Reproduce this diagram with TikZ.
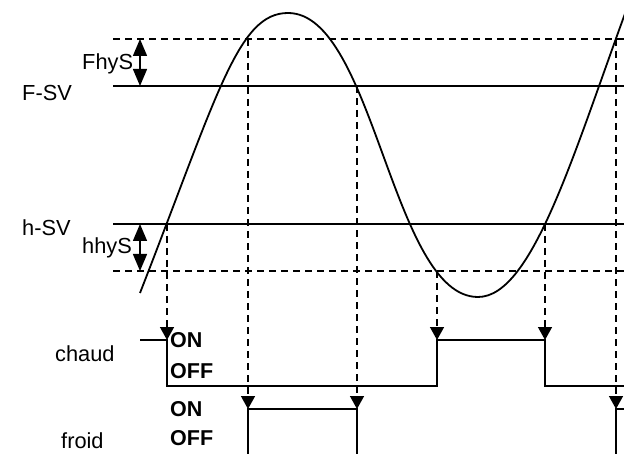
\documentclass[tikz,border=0pt]{standalone}
\usepackage{fontspec}
\setmainfont{Liberation Sans}
\usetikzlibrary{arrows.meta}
\tikzset{
  lvl/.style={line width=1.5bp},
  dsh/.style={line width=1.5bp, dash pattern=on 7bp off 5bp},
  sig/.style={line width=1.6bp},
  curve/.style={line width=1.8bp},
  drop/.style={dsh, -{Triangle[width=14bp,length=13bp]}},
  hys/.style={line width=1.5bp, {Triangle[width=14bp,length=17bp]}-{Triangle[width=14bp,length=17bp]}},
  lbl/.style={font=\fontsize{21.8bp}{24bp}\selectfont, anchor=base west, inner sep=0pt},
  st/.style={font=\fontsize{21.5bp}{24bp}\selectfont\bfseries, anchor=base west, inner sep=0pt}
}
\begin{document}
\begin{tikzpicture}[x=1bp,y=-1bp]
\useasboundingbox (0,0) rectangle (624,454);
\clip (0,0) rectangle (624,454);
% levels
\coordinate (uL) at (113,39);  \coordinate (uR) at (624,39);
\coordinate (fL) at (113,86);  \coordinate (fR) at (624,86);
\coordinate (hL) at (113,224); \coordinate (hR) at (624,224);
\coordinate (lL) at (113,271); \coordinate (lR) at (624,271);
\draw[dsh] (uL) -- (uR);
\draw[lvl] (fL) -- (fR);
\draw[lvl] (hL) -- (hR);
\draw[dsh] (lL) -- (lR);
% hysteresis arrows
\coordinate (fa) at (140,39); \coordinate (fb) at (140,86);
\coordinate (ha) at (140,224); \coordinate (hb) at (140,271);
\draw[hys] (fa) -- (fb);
\draw[hys] (ha) -- (hb);
% labels
\node[lbl] (lfhys) at (82,70) {FhyS};
\node[lbl] (lfsv) at (22,101) {F-SV};
\node[lbl] (lhsv) at (22,236) {h-SV};
\node[lbl] (lhhys) at (82,254) {hhyS};
\node[lbl] (lchaud) at (55,361) {chaud};
\node[lbl] (lfroid) at (61,448) {froid};
\node[st] (con) at (170,347) {ON};
\node[st] (coff) at (170,378) {OFF};
\node[st] (fon) at (170,416) {ON};
\node[st] (foff) at (170,445) {OFF};
% curve
\coordinate (s0) at (140,293);
\coordinate (pk) at (288,13);
\coordinate (tr) at (478,297);
\coordinate (s1) at (630,0);
\draw[curve] (s0) .. controls (218,93) and (238,13) .. (pk)
  .. controls (374,13) and (392,297) .. (tr)
  .. controls (533,297) and (574.5,150) .. (s1);
% crossing points
\coordinate (c1) at (167,224); \coordinate (c1b) at (167,340);
\coordinate (c2) at (437,271); \coordinate (c2b) at (437,340);
\coordinate (c3) at (545,224); \coordinate (c3b) at (545,340);
\coordinate (d1) at (248,39);  \coordinate (d1b) at (248,409);
\coordinate (d2) at (357,86);  \coordinate (d2b) at (357,409);
\coordinate (d3) at (616,39);  \coordinate (d3b) at (616,409);
\draw[drop] (c1) -- (c1b);
\draw[drop] (c2) -- (c2b);
\draw[drop] (c3) -- (c3b);
\draw[drop] (d1) -- (d1b);
\draw[drop] (d2) -- (d2b);
\draw[drop] (d3) -- (d3b);
% chaud signal
\coordinate (cs) at (140,340);
\coordinate (ce) at (624,386);
\draw[sig] (cs) -- (c1b) -- (167,386) -- (437,386) -- (c2b) -- (c3b) -- (545,386) -- (ce);
% froid signal
\draw[sig] (248,454) -- (d1b) -- (d2b) -- (357,454);
\draw[sig] (616,454) -- (d3b) -- (624,409);
\end{tikzpicture}
\end{document}
